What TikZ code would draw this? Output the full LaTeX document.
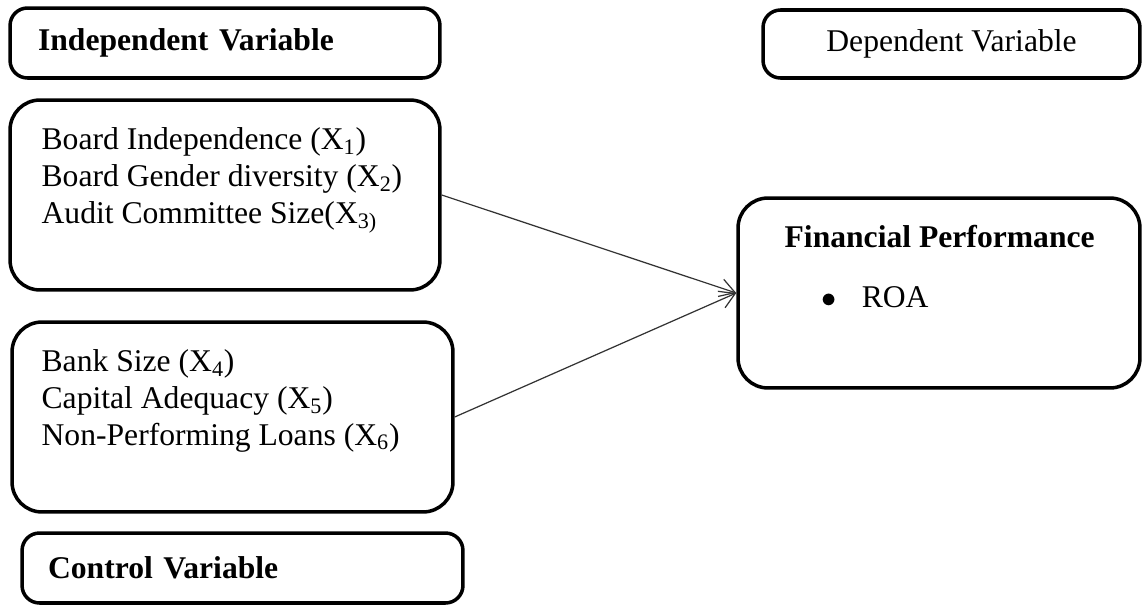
\documentclass[tikz,border=0pt]{standalone}
\usepackage{fontspec}
\setmainfont{Liberation Serif}
\usepackage{tikz}
\usetikzlibrary{positioning,arrows.meta}
\definecolor{cfline}{HTML}{000000}
\definecolor{cfarrow}{HTML}{333333}

\begin{document}
\begin{tikzpicture}[x=0.02cm,y=-0.02cm,font=\fontsize{18}{21}\selectfont,
  hdr/.style={rectangle,rounded corners=0.35cm,draw=cfline,line width=2pt,inner xsep=0.56cm,inner ysep=0pt,align=left,minimum height=1.4cm},
  varbox/.style={rectangle,rounded corners=0.6cm,draw=cfline,line width=2pt,minimum height=3.8cm},
  lst/.style={align=left,inner sep=0pt,anchor=north west},
  ar/.style={-{Straight Barb[length=0.3cm,width=0.36cm]},cfarrow,line width=0.7pt}]
\useasboundingbox (0,0) rectangle (1143,605);
\clip (0,0) rectangle (1143,605);
% headers
\node[hdr,text width=7.48cm] (hdrI) at (225,43) {\textbf{Independent Variable}};
\node[hdr,text width=7.78cm,inner xsep=0.52cm] (hdrC) at (242.5,568) {\textbf{Control Variable}};
\node[hdr,align=center,minimum width=7.54cm,minimum height=1.36cm] (hdrD) at (951.5,44) {Dependent Variable};
% variable boxes
\node[varbox,minimum width=8.6cm] (indep) at (225,195) {};
\node[varbox,minimum width=8.82cm] (ctrl) at (232.5,417) {};
\node[varbox,minimum width=8.04cm] (dep) at (939,293) {};
% box contents
\node[lst] (indlist) at ([shift={(33,29)}]indep.north west)
  {Board Independence (X\textsubscript{1})\\Board Gender diversity (X\textsubscript{2})\\Audit Committee Size(X\textsubscript{3)}};
\node[lst] (ctrllist) at ([shift={(31,29)}]ctrl.north west)
  {Bank Size (X\textsubscript{4})\\Capital Adequacy (X\textsubscript{5})\\Non-Performing Loans (X\textsubscript{6})};
\node[lst] (deptitle) at ([shift={(48,29)}]dep.north west) {\textbf{Financial Performance}};
\node[lst] (roa) at ([shift={(37,38)}]deptitle.south west) {$\bullet$\hspace{0.5cm}ROA};
% links
\draw[ar] (indep.east)--(dep.west);
\draw[ar] (ctrl.east)--(dep.west);
\end{tikzpicture}
\end{document}
